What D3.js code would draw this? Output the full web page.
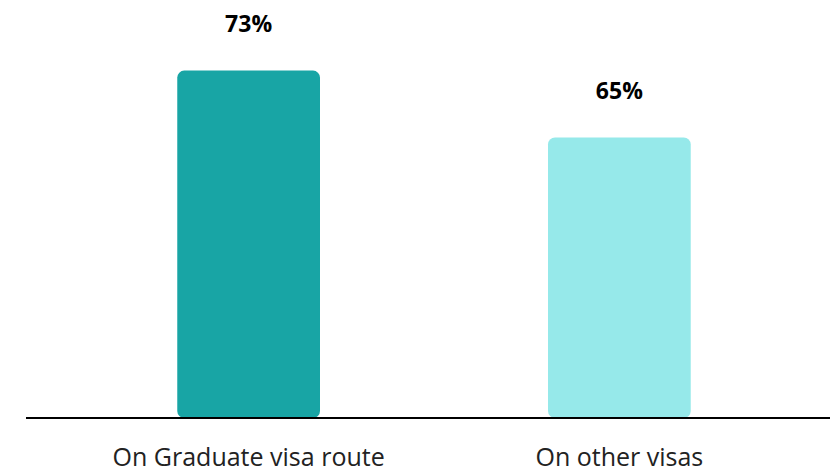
<!DOCTYPE html>
<html>
<head>
<meta charset="utf-8">
<script src="https://cdn.jsdelivr.net/npm/d3@7"></script>
<style>
  body { margin: 0; background: #fff; }
  text { font-family: "Open Sans", sans-serif; }
</style>
</head>
<body>
<div id="chart"></div>
<script>
var categories = ["On Graduate visa route", "On other visas"];
var values = [73, 65];
var colors = ["#18a5a5", "#96e9ea"];

var w = 830, h = 473;
var svg = d3.select("#chart").append("svg")
    .attr("width", w).attr("height", h);

var xScale = d3.scaleBand()
    .domain(categories)
    .range([26, 842])
    .paddingInner(0.615)
    .paddingOuter(0.408);

var yScale = d3.scaleLinear()
    .domain([31.5, 80])
    .range([418, 12]);

var data = categories.map(function(c, i) {
    return {cat: c, value: values[i], color: colors[i]};
});

svg.selectAll("rect.bar").data(data).enter().append("rect")
    .attr("class", "bar")
    .attr("x", function(d) { return xScale(d.cat); })
    .attr("y", function(d) { return yScale(d.value); })
    .attr("width", xScale.bandwidth())
    .attr("height", function(d) { return yScale(31.5) - yScale(d.value); })
    .attr("rx", 7).attr("ry", 7)
    .style("fill", function(d) { return d.color; });

// baseline
svg.append("line")
    .attr("x1", 26).attr("x2", w)
    .attr("y1", yScale(31.5)).attr("y2", yScale(31.5))
    .style("stroke", "#000").style("stroke-width", 2);

svg.selectAll("text.val").data(data).enter().append("text")
    .attr("class", "val")
    .attr("x", function(d) { return xScale(d.cat) + xScale.bandwidth() / 2; })
    .attr("y", function(d) { return yScale(d.value) - 39; })
    .attr("text-anchor", "middle")
    .style("font-size", "23px").style("font-weight", "bold")
    .style("fill", "#000")
    .text(function(d) { return d.value + "%"; });

svg.selectAll("text.cat").data(data).enter().append("text")
    .attr("class", "cat")
    .attr("x", function(d) { return xScale(d.cat) + xScale.bandwidth() / 2; })
    .attr("y", 466)
    .attr("text-anchor", "middle")
    .style("font-size", "25px")
    .style("fill", "#222")
    .text(function(d) { return d.cat; });
</script>
</body>
</html>
